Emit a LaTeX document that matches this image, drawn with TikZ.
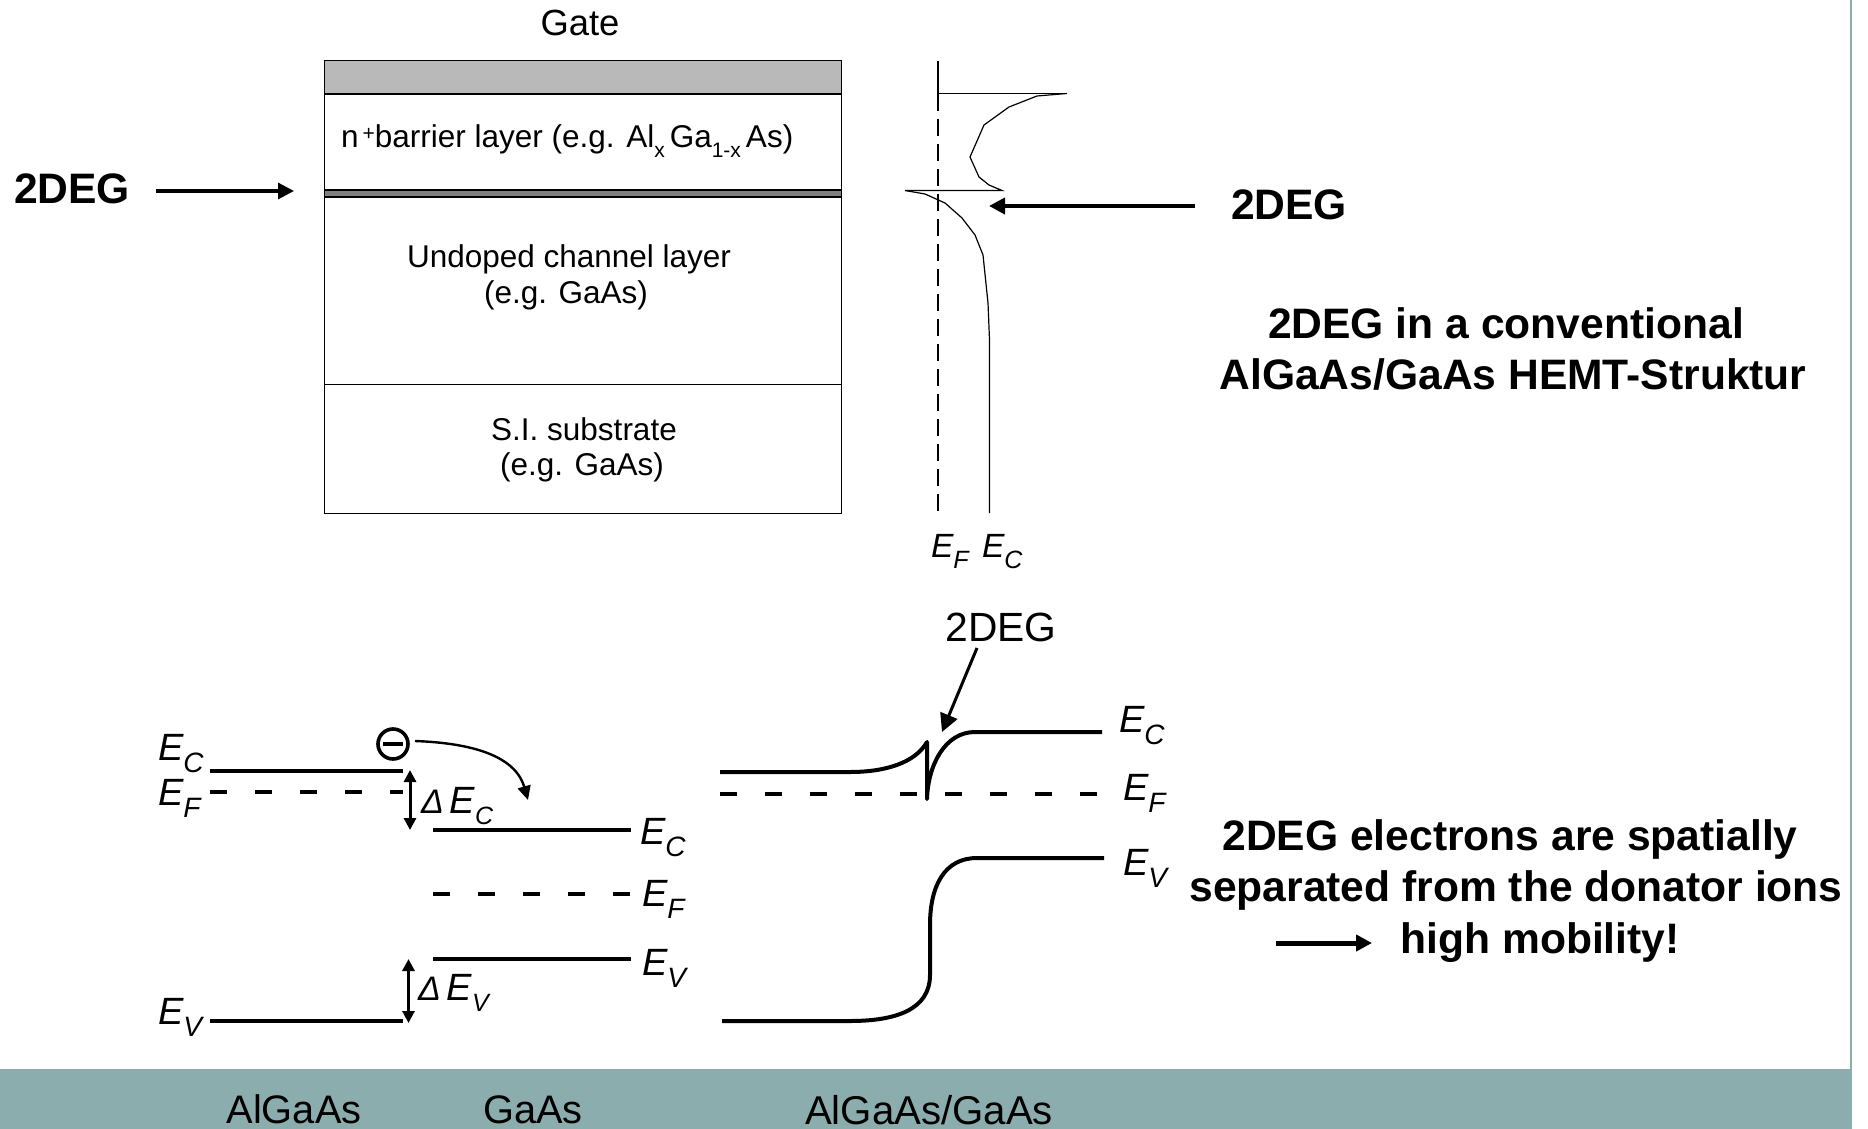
\documentclass[tikz,border=0pt]{standalone}
\usepackage{fontspec}
\setmainfont{Liberation Sans}
\usepackage{xcolor}
\usetikzlibrary{calc,arrows.meta}
\definecolor{tealbar}{HTML}{8CADAE}
\newcommand{\fsize}[1]{\fontsize{#1}{#1}\selectfont}
% level label: italic E with a lowered index
\newcommand{\lvl}[1]{{\itshape E\raisebox{-6pt}{\fsize{14}#1}}}
\newcommand{\lvlsmall}[1]{{\itshape E\raisebox{-5.5pt}{\fsize{12.5}#1}}}
\tikzset{
  txt/.style={inner sep=0pt, outer sep=0pt, anchor=base},
  boldtxt/.style={txt, font=\fsize{21.3}\bfseries},
  lvltxt/.style={txt, anchor=base west, font=\fsize{19}},
  layertxt/.style={txt, font=\fsize{15.75}},
  levelline/.style={line width=2pt},
  fermiline/.style={line width=2pt, dash pattern=on 8.5pt off 14pt},
  bandline/.style={line width=.6pt},
}
\begin{document}
\begin{tikzpicture}[x=0.5pt, y=-0.5pt, >={Triangle[length=8pt,width=8pt]}]
  \useasboundingbox (0,0) rectangle (1868,1129);
  % Teal footer and right edge
  \fill[tealbar] (0,1069) rectangle (1852,1129);
  \fill[tealbar] (1850,0) rectangle (1852,1129);
  % Layer stack
  \fill[gray!55] (324,61) rectangle (841,94);
  \fill[gray] (324,190) rectangle (841,197);
  \draw[line width=.5pt] (324,61) rectangle (841,513.5);
  \draw[line width=.8pt] (324,94) -- (841,94);
  \draw[line width=.6pt] (324,190) -- (841,190);
  \draw[line width=.6pt] (324,197) -- (841,197);
  \draw[line width=.5pt] (324,384) -- (841,384);
  \node[txt, font=\fsize{18.2}] (gate) at (580,36) {Gate};
  \node[layertxt, anchor=base west] (barrier) at (341,148) {n\kern2pt\raisebox{.25em}{\fsize{10.5}+}barrier layer (e.g. Al\raisebox{-.3em}{\fsize{10.5}x}\kern2.5pt Ga\raisebox{-.3em}{\fsize{10.5}1-x}\kern2.5pt As)};
  \node[layertxt] (channel) at (569,267) {Undoped channel layer};
  \node[layertxt] (channeleg) at (566,303) {(e.g. GaAs)};
  \node[layertxt] (subst) at (584,440) {S.I. substrate};
  \node[layertxt] (substeg) at (582,475) {(e.g. GaAs)};
  % Conduction band next to the stack
  \draw[bandline] (938,61) -- (938,93.5) -- (1067,93.5);
  \draw[bandline, dash pattern=on 8.5pt off 4pt] (938,94) -- (938,513);
  \draw[bandline] (1067,93.5) -- (1037,96) -- (1009,107) -- (984,125) -- (970,157) -- (979,177) -- (989,185) -- (1002,190.5) -- (905,190.5);
  \draw[bandline] (905,190.5) -- (925,194) -- (945,203) -- (962,218) -- (975,235) -- (983,255) -- (988,303) -- (989.5,340) -- (989.5,513);
  \node[txt, anchor=base west, font=\fsize{16.8}] (ef top) at (931,557) {\lvlsmall{F}};
  \node[txt, anchor=base west, font=\fsize{16.8}] (ec top) at (982,557) {\lvlsmall{C}};
  % 2DEG labels
  \node[boldtxt, anchor=base west] (deg left) at (14,203) {2DEG};
  \coordinate (deg left end) at (294,191);
  \draw[->, line width=1.6pt] (156,191) -- (deg left end);
  \node[boldtxt, anchor=base west] (deg right) at (1231,219) {2DEG};
  \coordinate (deg right end) at (989,206);
  \draw[->, line width=2.2pt] (1195,206) -- (deg right end);
  \node[boldtxt] (title a) at (1506,338) {2DEG in a conventional};
  \node[boldtxt] (title b) at (1513,389) {AlGaAs/GaAs HEMT-Struktur};
  % Separate materials
  \draw[levelline] (210,771) -- (402.5,771);
  \draw[fermiline] (210,792) -- (402.5,792);
  \draw[levelline] (210,1021) -- (402.5,1021);
  \draw[levelline] (433,830) -- (631,830);
  \draw[fermiline] (433,894) -- (631,894);
  \draw[levelline] (433,959) -- (631,959);
  \draw[{Triangle[length=6pt,width=6pt]}-{Triangle[length=6pt,width=6pt]}, line width=1.5pt] (410,770) -- (410,830);
  \draw[{Triangle[length=6pt,width=6pt]}-{Triangle[length=6pt,width=6pt]}, line width=1.5pt] (408.5,959) -- (408.5,1023);
  \node[lvltxt] (ec a) at (158,760) {\lvl{C}};
  \node[lvltxt] (ef a) at (158,805) {\lvl{F}};
  \node[lvltxt] (ev a) at (158,1024) {\lvl{V}};
  \node[lvltxt] (ec b) at (640,844) {\lvl{C}};
  \node[lvltxt] (ef b) at (642,906) {\lvl{F}};
  \node[lvltxt] (ev b) at (642,975) {\lvl{V}};
  \node[lvltxt] (dec) at (421,813) {{\itshape\fsize{17}Δ}\kern3pt\lvlsmall{C}};
  \node[lvltxt] (dev) at (418,1000) {{\itshape\fsize{17}Δ}\kern3pt\lvlsmall{V}};
  % Electron dropping over the step
  \node[circle, draw, line width=1.8pt, minimum size=15pt, inner sep=0pt] (electron) at (393,744) {};
  \draw[line width=2pt] ($(electron.center)+(-10,0)$) -- ($(electron.center)+(10,0)$);
  \coordinate (electron end) at (528,800);
  \draw[-{Triangle[length=7pt,width=6.5pt]}, line width=1.2pt] (415,741) .. controls (470,743) and (515,755) .. (electron end);
  % Joined structure
  \draw[levelline, line join=round] (720,772) -- (850,772) .. controls (885,772) and (915,763) .. (927,742) -- (927,799) .. controls (928,765) and (945,732) .. (975,732) -- (1102,732);
  \draw[fermiline] (720,794) -- (1097,794);
  \draw[levelline] (722,1021) -- (850,1021) .. controls (895,1021) and (930,1010) .. (930,975) -- (930,925) .. controls (930,885) and (945,858) .. (977,858) -- (1104,858);
  \node[lvltxt] (ec c) at (1119,732) {\lvl{C}};
  \node[lvltxt] (ef c) at (1123,800) {\lvl{F}};
  \node[lvltxt] (ev c) at (1123,875) {\lvl{V}};
  \node[txt, font=\fsize{20.4}] (deg mid) at (1001,641) {2DEG};
  \coordinate (deg mid end) at (942,732);
  \draw[-{Triangle[length=9pt,width=9pt]}, line width=1.5pt] (977,648) -- (deg mid end);
  % Conclusion
  \node[boldtxt] (note a) at (1510,850) {2DEG electrons are spatially};
  \node[boldtxt] (note b) at (1516,901) {separated from the donator ions};
  \node[boldtxt] (note c) at (1540,953) {high mobility!};
  \coordinate (note end) at (1372,943);
  \draw[->, line width=2.5pt] (1276,943) -- (note end);
  % Footer labels
  \node[txt, font=\fsize{19.9}] (foot a) at (294,1123) {AlGaAs};
  \node[txt, font=\fsize{19.9}] (foot b) at (533,1123) {GaAs};
  \node[txt, font=\fsize{20.1}] (foot c) at (929,1124) {AlGaAs/GaAs};
\end{tikzpicture}
\end{document}
